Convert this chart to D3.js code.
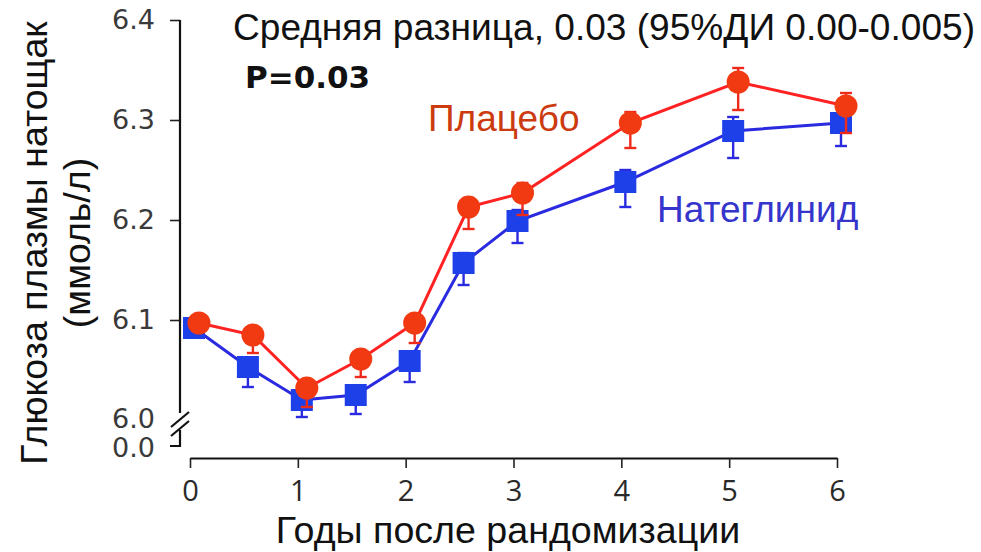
<!DOCTYPE html>
<html>
<head>
<meta charset="utf-8">
<script src="https://cdn.jsdelivr.net/npm/d3@7"></script>
<style>
  html, body { margin: 0; padding: 0; background: #fff; }
  svg { display: block; }
</style>
</head>
<body>
<svg id="chart" width="981" height="552"></svg>
<script>
// Years after randomisation
const years = [0, 0.5, 1, 1.5, 2, 2.5, 3, 4, 5, 6];

// Fasting plasma glucose, mmol/L
const placebo     = [6.097, 6.085, 6.032, 6.061, 6.097, 6.213, 6.227, 6.297, 6.338, 6.314];
const placeboLow  = [0.006, 0.018, 0.019, 0.018, 0.020, 0.022, 0.022, 0.025, 0.028, 0.027];
const placeboHigh = [0.006, 0.008, 0.008, 0.008, 0.008, 0.009, 0.010, 0.011, 0.014, 0.013];

const nateglinide = [6.092, 6.053, 6.020, 6.025, 6.059, 6.157, 6.199, 6.238, 6.289, 6.297];
const nateLow     = [0.006, 0.020, 0.017, 0.019, 0.021, 0.022, 0.022, 0.025, 0.027, 0.023];
const nateHigh    = [0.006, 0.008, 0.008, 0.008, 0.008, 0.010, 0.011, 0.012, 0.014, 0.018];

const xTicks = [0, 1, 2, 3, 4, 5, 6];
const yTicks = [6.1, 6.2, 6.3, 6.4];
const yTickLabels = ["6.1", "6.2", "6.3", "6.4"];

const svg = d3.select("#chart");

const x = d3.scaleLinear().domain([0, 6]).range([190, 837]);
const y = d3.scaleLinear().domain([6.0, 6.4]).range([420, 20]);

const axisX = 180;      // y-axis position
const baseY = 458;      // x-axis position
const zeroY = 446;      // position of the "0.0" stub below the break

const tickFont = "'DejaVu Sans', Verdana, sans-serif";

// ---- y axis (broken) ----
const yAxisG = svg.append("g").attr("transform", `translate(${axisX},0)`);
yAxisG.call(d3.axisLeft(y).tickValues(yTicks).tickFormat((d, i) => yTickLabels[i]).tickSize(10).tickPadding(15).tickSizeOuter(0));
yAxisG.select(".domain").remove();
yAxisG.selectAll(".tick line").attr("stroke", "#222").attr("stroke-width", 1.6);
yAxisG.selectAll(".tick text")
  .attr("font-family", tickFont)
  .attr("font-size", 27).attr("fill", "#3a3a3a");

// upper axis segment
svg.append("line")
  .attr("x1", axisX).attr("x2", axisX)
  .attr("y1", y(6.4)).attr("y2", 413)
  .attr("stroke", "#111").attr("stroke-width", 2.2);
// lower stub down to 0.0
svg.append("path")
  .attr("d", `M${axisX},430 L${axisX},${zeroY} L${axisX - 10},${zeroY}`)
  .attr("fill", "none").attr("stroke", "#111").attr("stroke-width", 2.2);
// break marks
[0, 9].forEach(dy => {
  svg.append("line")
    .attr("x1", 171).attr("y1", 427 + dy)
    .attr("x2", 189).attr("y2", 412 + dy)
    .attr("stroke", "#111").attr("stroke-width", 2.2);
});
// 6.0 and 0.0 labels
svg.append("text").attr("x", 155).attr("y", 418).attr("dy", "0.36em")
  .attr("text-anchor", "end")
  .attr("font-family", tickFont)
  .attr("font-size", 27).attr("fill", "#3a3a3a").text("6.0");
svg.append("text").attr("x", 155).attr("y", 447).attr("dy", "0.36em")
  .attr("text-anchor", "end")
  .attr("font-family", tickFont)
  .attr("font-size", 27).attr("fill", "#3a3a3a").text("0.0");

// ---- x axis ----
const xAxisG = svg.append("g").attr("transform", `translate(0,${baseY})`);
xAxisG.call(d3.axisBottom(x).tickValues(xTicks).tickFormat(d3.format("d")).tickSize(10).tickPadding(12).tickSizeOuter(0));
xAxisG.select(".domain").attr("stroke", "#111").attr("stroke-width", 2.2);
xAxisG.selectAll(".tick line").attr("stroke", "#222").attr("stroke-width", 1.6);
xAxisG.selectAll(".tick text")
  .attr("font-family", "'Open Sans', sans-serif")
  .attr("font-size", 29).attr("fill", "#2a2a2a");

// ---- series ----
function drawSeries(vals, low, high, opt) {
  const pts = years.map((t, i) => ({ t, v: vals[i], lo: low[i], hi: high[i] }));
  const px = d => x(d.t) + opt.dx;
  const line = d3.line().x(px).y(d => y(d.v));
  svg.append("path").datum(pts)
    .attr("d", line).attr("fill", "none")
    .attr("stroke", opt.line).attr("stroke-width", 3);
  const eb = svg.append("g").attr("stroke", opt.err).attr("stroke-width", 2.4);
  pts.forEach(d => {
    const cx = px(d), y1 = y(d.v + d.hi), y2 = y(d.v - d.lo);
    eb.append("line").attr("x1", cx).attr("x2", cx).attr("y1", y1).attr("y2", y2);
    eb.append("line").attr("x1", cx - 6).attr("x2", cx + 6).attr("y1", y1).attr("y2", y1);
    eb.append("line").attr("x1", cx - 6).attr("x2", cx + 6).attr("y1", y2).attr("y2", y2);
  });
  const m = svg.append("g");
  if (opt.shape === "square") {
    m.selectAll("rect").data(pts).join("rect")
      .attr("x", d => px(d) - 11).attr("y", d => y(d.v) - 11)
      .attr("width", 22).attr("height", 22)
      .attr("fill", opt.fill);
  } else {
    m.selectAll("circle").data(pts).join("circle")
      .attr("cx", px).attr("cy", d => y(d.v)).attr("r", 11.5)
      .attr("fill", opt.fill);
  }
}

drawSeries(nateglinide, nateLow, nateHigh,
  { dx: 4, line: "#2a2ae0", err: "#2a2ae0", fill: "#1e40e8", shape: "square" });
drawSeries(placebo, placeboLow, placeboHigh,
  { dx: 9, line: "#ff2222", err: "#ee2a1a", fill: "#f23a12", shape: "circle" });

// ---- annotations ----
svg.append("text").attr("x", 233).attr("y", 40)
  .attr("font-family", "'Liberation Sans', Arial, sans-serif")
  .attr("font-size", 37).attr("fill", "#111")
  .attr("textLength", 742).attr("lengthAdjust", "spacingAndGlyphs")
  .text("Средняя разница, 0.03 (95%ДИ 0.00-0.005)");
svg.append("text").attr("x", 245).attr("y", 88)
  .attr("font-family", "'DejaVu Sans', Verdana, sans-serif")
  .attr("font-weight", "bold")
  .attr("font-size", 31).attr("fill", "#111")
  .text("P=0.03");
svg.append("text").attr("x", 428).attr("y", 131)
  .attr("font-family", "'Liberation Sans', Arial, sans-serif")
  .attr("font-size", 37).attr("fill", "#cc3a10")
  .text("Плацебо");
svg.append("text").attr("x", 657).attr("y", 222)
  .attr("font-family", "'Liberation Sans', Arial, sans-serif")
  .attr("font-size", 37).attr("fill", "#3535cc")
  .text("Натеглинид");

// axis titles
svg.append("text").attr("x", 508).attr("y", 543)
  .attr("text-anchor", "middle")
  .attr("font-family", "'Liberation Sans', Arial, sans-serif")
  .attr("font-size", 37.6).attr("fill", "#111")
  .text("Годы после рандомизации");
const yt = svg.append("text")
  .attr("transform", "translate(0,243) rotate(-90)")
  .attr("text-anchor", "middle")
  .attr("font-family", "'Liberation Sans', Arial, sans-serif")
  .attr("font-size", 37.5).attr("fill", "#111");
yt.append("tspan").attr("x", 0).attr("y", 47).text("Глюкоза плазмы натощак");
yt.append("tspan").attr("x", 0).attr("y", 90).text("(ммоль/л)");
</script>
</body>
</html>
